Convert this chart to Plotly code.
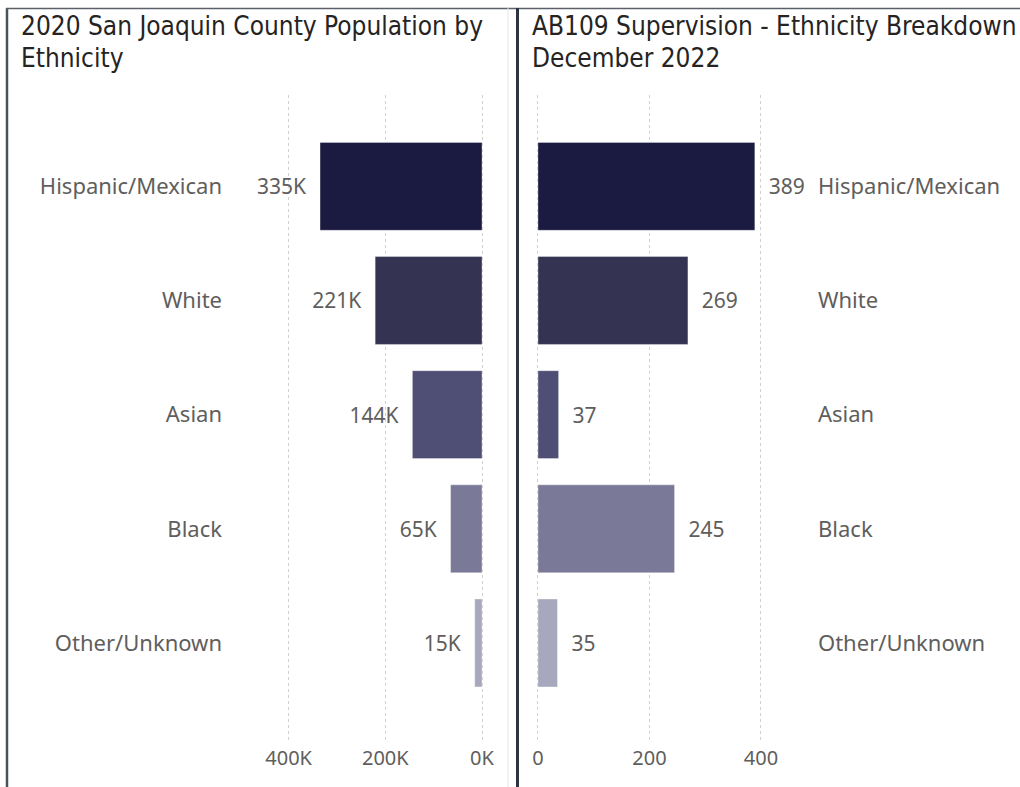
import plotly.graph_objects as go

categories = ["Hispanic/Mexican", "White", "Asian", "Black", "Other/Unknown"]
population = [335000, 221000, 144000, 65000, 15000]
population_labels = ["335K", "221K", "144K", "65K", "15K"]
supervision = [389, 269, 37, 245, 35]
bar_colors = ["#1B1A40", "#343452", "#4F4F75", "#7A7A98", "#A7A7BD"]
left_ticks = [0, 200000, 400000]
left_tick_text = ["0K", "200K", "400K"]
right_ticks = [0, 200, 400]

W, H = 1020, 787
def px_x(p):
    return p / W
def px_y(p):
    return 1 - p / H

label_font = dict(family="Noto Sans, Open Sans, sans-serif", size=22, color="#605E5C")
data_font = dict(family="Noto Sans, Open Sans, sans-serif", size=21, color="#605E5C")
tick_font = dict(family="Noto Sans, Open Sans, sans-serif", size=20, color="#605E5C")
title_font = dict(family="DejaVu Sans Condensed, DejaVu Sans, sans-serif", size=26, color="#252423")

fig = go.Figure()

fig.add_trace(go.Bar(
    y=categories, x=population, orientation="h",
    marker=dict(color=bar_colors, line=dict(width=1, color="rgba(255,255,255,0.35)")),
    text=[t + "\u00a0\u00a0" for t in population_labels],
    textposition="outside", cliponaxis=False,
    textfont=data_font, width=0.77,
    xaxis="x", yaxis="y", showlegend=False, hoverinfo="skip",
))
fig.add_trace(go.Bar(
    y=categories, x=supervision, orientation="h",
    marker=dict(color=bar_colors, line=dict(width=1, color="rgba(255,255,255,0.35)")),
    text=["\u00a0\u00a0" + str(v) for v in supervision],
    textposition="outside", cliponaxis=False,
    textfont=data_font, width=0.77,
    xaxis="x2", yaxis="y2", showlegend=False, hoverinfo="skip",
))

yrange = [4.85, -0.80]
fig.update_layout(
    width=W, height=H,
    margin=dict(l=0, r=0, t=0, b=0),
    plot_bgcolor="white", paper_bgcolor="white",
    xaxis=dict(domain=[px_x(233), px_x(497)], range=[515000, -31000],
               tickvals=left_ticks, ticktext=left_tick_text, tickfont=tick_font,
               showgrid=True, gridcolor="#CFCFCF", griddash="dot", gridwidth=1,
               zeroline=False, showline=False, ticks="", ticklabelstandoff=4),
    yaxis=dict(domain=[px_y(740), px_y(95)], range=yrange, type="category",
               tickfont=label_font, showgrid=False, zeroline=False, showline=False,
               ticks="", ticklabelstandoff=10, anchor="x"),
    xaxis2=dict(domain=[px_x(530), px_x(805)], range=[-14.3, 479], anchor="y2",
                tickvals=right_ticks, tickfont=tick_font,
                showgrid=True, gridcolor="#CFCFCF", griddash="dot", gridwidth=1,
                zeroline=False, showline=False, ticks="", ticklabelstandoff=4),
    yaxis2=dict(domain=[px_y(740), px_y(95)], range=yrange, type="category",
                side="right", anchor="x2",
                tickfont=label_font, showgrid=False, zeroline=False, showline=False,
                ticks="", ticklabelstandoff=12),
    bargap=0.23,
)

# titles
titles = [
    (19, 9, "2020 San Joaquin County Population by"),
    (19, 41, "Ethnicity"),
    (530, 9, "AB109 Supervision - Ethnicity Breakdown"),
    (530, 41, "December 2022"),
]
for x, y, t in titles:
    fig.add_annotation(text=t, xref="paper", yref="paper", x=px_x(x), y=px_y(y),
                       xanchor="left", yanchor="top", showarrow=False,
                       font=title_font, align="left")

# frame lines
shapes = [
    dict(type="line", xref="paper", yref="paper", x0=px_x(7), x1=px_x(7), y0=px_y(8), y1=0,
         line=dict(color="#4B5060", width=2.5)),
    dict(type="line", xref="paper", yref="paper", x0=px_x(6), x1=1, y0=px_y(8.5), y1=px_y(8.5),
         line=dict(color="#5A5F6A", width=1.5)),
    dict(type="line", xref="paper", yref="paper", x0=px_x(508), x1=px_x(508), y0=px_y(8), y1=0,
         line=dict(color="#E6E6E6", width=1)),
    dict(type="line", xref="paper", yref="paper", x0=px_x(517.5), x1=px_x(517.5), y0=px_y(8), y1=0,
         line=dict(color="#2E3340", width=3)),
]
fig.update_layout(shapes=shapes)

fig.write_html("out.html", config={"displayModeBar": False},
               post_script="document.body.style.margin='0';document.body.style.overflow='hidden';")
